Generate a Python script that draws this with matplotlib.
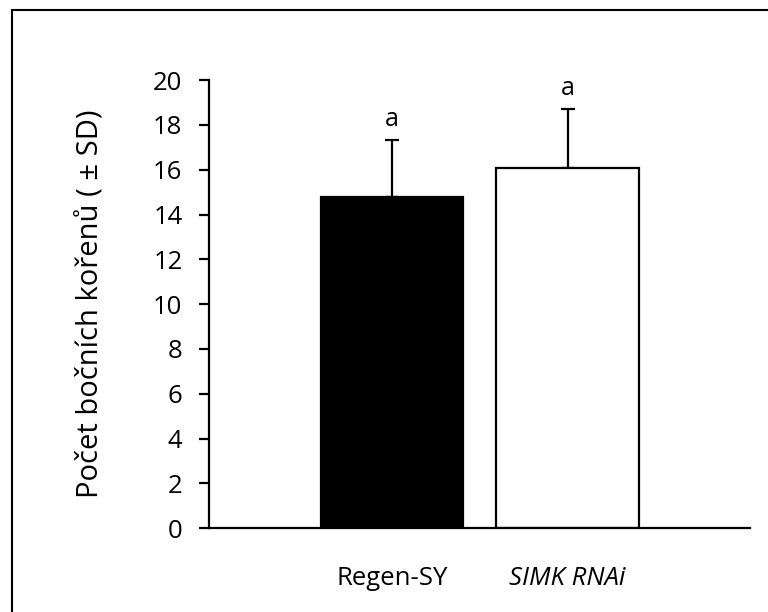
import matplotlib.pyplot as plt
from matplotlib.lines import Line2D

groups = ['Regen-SY', 'SIMK RNAi']
means = [14.8, 16.1]
sd = [2.55, 2.62]
letters = ['a', 'a']
fills = ['black', 'white']

plt.rcParams['font.family'] = ['Open Sans', 'DejaVu Sans']


def main():
    fig = plt.figure(figsize=(7.68, 6.12), dpi=100)
    ax = fig.add_axes([0.272, 0.137, 0.705, 0.732])

    x = list(range(len(groups)))
    ax.bar(x, means, width=0.81, color=fills, edgecolor='black', linewidth=1.6, zorder=2)
    ax.errorbar(x, means, yerr=[[0, 0], sd], fmt='none', ecolor='black',
                elinewidth=1.6, capsize=5, capthick=1.6, zorder=1)
    for xi, m, s, lab in zip(x, means, sd, letters):
        ax.text(xi, m + s + 0.35, lab, ha='center', va='bottom', fontsize=18)

    ax.set_xlim(-1.04, 2.04)
    ax.set_ylim(0, 20)
    ax.set_yticks(range(0, 21, 2))
    ax.set_xticks(x)
    ax.set_xticklabels(groups)
    ax.get_xticklabels()[1].set_style('italic')
    ax.tick_params(axis='x', length=0, pad=27, labelsize=18.5)
    ax.tick_params(axis='y', length=7, width=1.6, direction='out', labelsize=18.5, pad=12)
    ax.set_ylabel('Počet bočních kořenů ( ± SD)', fontsize=21, labelpad=34)

    for side in ['top', 'right']:
        ax.spines[side].set_visible(False)
    for side in ['left', 'bottom']:
        ax.spines[side].set_linewidth(1.6)

    # outer frame (only left and top edges fall inside the picture)
    fig.add_artist(Line2D([12 / 768, 12 / 768], [0, 1 - 10 / 612],
                          transform=fig.transFigure, color='black', lw=1.5))
    fig.add_artist(Line2D([12 / 768, 1], [1 - 10 / 612, 1 - 10 / 612],
                          transform=fig.transFigure, color='black', lw=1.5))

    fig.savefig('out.png', dpi=100)


if __name__ == "__main__":
    main()
